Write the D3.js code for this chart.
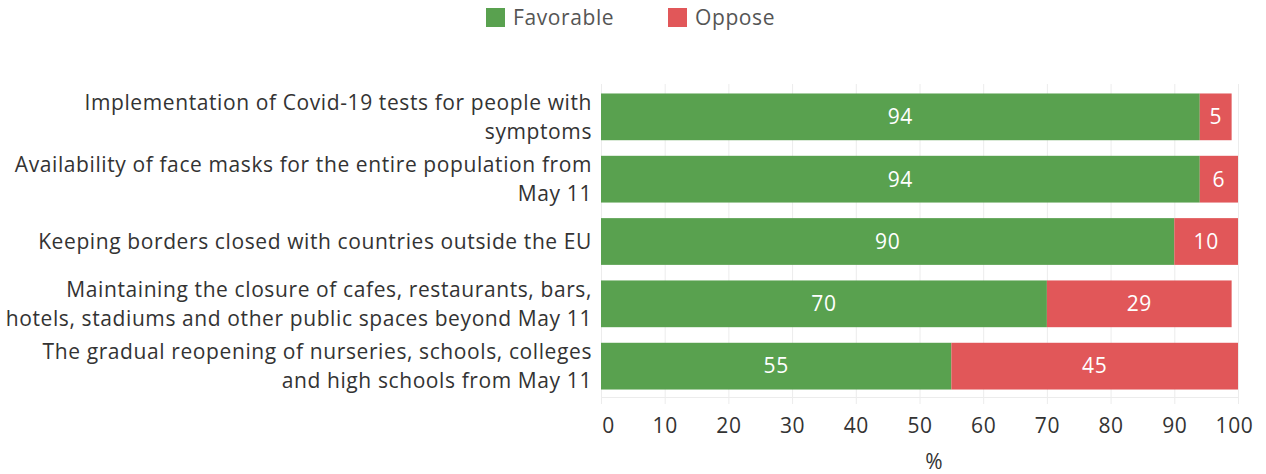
<!DOCTYPE html>
<html><head><meta charset="utf-8">
<script src="https://cdn.jsdelivr.net/npm/d3@7"></script>
<style>body{margin:0;background:#fff;} text{font-family:"Open Sans",sans-serif;}</style>
</head><body><svg id="c" width="1266" height="474"></svg>
<script>
const categories = [
  ["Implementation of Covid-19 tests for people with","symptoms"],
  ["Availability of face masks for the entire population from","May 11"],
  ["Keeping borders closed with countries outside the EU"],
  ["Maintaining the closure of cafes, restaurants, bars,","hotels, stadiums and other public spaces beyond May 11"],
  ["The gradual reopening of nurseries, schools, colleges","and high schools from May 11"]
];
const favorable = [94, 94, 90, 70, 55];
const oppose = [5, 6, 10, 29, 45];
const seriesNames = ["Favorable","Oppose"];
const colors = ["#59a14f","#e15759"];
const xTicks = [0,10,20,30,40,50,60,70,80,90,100];
const xTitle = "%";

const svg = d3.select("#c");
const x = d3.scaleLinear().domain([0,100]).range([601,1238]);
const y = d3.scaleBand().domain(d3.range(categories.length)).range([86,397]).paddingInner(0.25).paddingOuter(0.12);

// gridlines
svg.append("g").selectAll("line").data(xTicks).join("line")
  .attr("x1",d=>x(d)+0.5).attr("x2",d=>x(d)+0.5).attr("y1",84).attr("y2",404)
  .attr("stroke","#ececec").attr("stroke-width",1);
svg.append("line").attr("x1",x(0)).attr("x2",x(100)+1).attr("y1",397.5).attr("y2",397.5).attr("stroke","#ececec");

const rows = categories.map((c,i)=>({i, fav:favorable[i], opp:oppose[i]}));
const g = svg.append("g");
g.selectAll("rect.f").data(rows).join("rect").attr("class","f")
  .attr("x",x(0)).attr("y",d=>y(d.i)).attr("width",d=>x(d.fav)-x(0)).attr("height",y.bandwidth()).attr("fill",colors[0]);
g.selectAll("rect.o").data(rows).join("rect").attr("class","o")
  .attr("x",d=>x(d.fav)).attr("y",d=>y(d.i)).attr("width",d=>x(d.fav+d.opp)-x(d.fav)).attr("height",y.bandwidth()).attr("fill",colors[1]);
g.selectAll("text.fv").data(rows).join("text").attr("class","fv")
  .attr("x",d=>(x(0)+x(d.fav))/2).attr("y",d=>y(d.i)+y.bandwidth()/2).attr("dy","0.35em")
  .attr("text-anchor","middle").attr("fill","#fff").attr("font-size",21).attr("letter-spacing",0.6).text(d=>d.fav);
g.selectAll("text.ov").data(rows).join("text").attr("class","ov")
  .attr("x",d=>(x(d.fav)+x(d.fav+d.opp))/2).attr("y",d=>y(d.i)+y.bandwidth()/2).attr("dy","0.35em")
  .attr("text-anchor","middle").attr("fill","#fff").attr("font-size",21).attr("letter-spacing",0.6).text(d=>d.opp);

// category labels
const lab = svg.append("g");
categories.forEach((lines,i)=>{
  const cy = y(i)+y.bandwidth()/2;
  const lh = 29;
  const t = lab.append("text").attr("text-anchor","end").attr("font-size",21).attr("letter-spacing",0.6).attr("fill","#333");
  lines.forEach((ln,k)=>{
    t.append("tspan").attr("x",592).attr("y",cy+(k-(lines.length-1)/2)*lh).attr("dy","0.35em").text(ln);
  });
});

// x axis
const ax = svg.append("g").attr("transform","translate(0,404)")
  .call(d3.axisBottom(x).tickValues(xTicks).tickSize(0).tickPadding(14));
ax.select(".domain").remove();
ax.selectAll("text").attr("font-size",21).attr("letter-spacing",0.6).attr("fill","#333").attr("font-family","'Open Sans',sans-serif");
ax.selectAll("text").attr("dx",d=>d===0?7:(d===100?-4:0));
svg.append("text").attr("x",934).attr("y",462).attr("dy","0.35em").attr("text-anchor","middle")
  .attr("font-size",21).attr("fill","#333").text(xTitle);

// legend
const leg = svg.append("g");
const lx = [486,668];
seriesNames.forEach((n,i)=>{
  leg.append("rect").attr("x",lx[i]).attr("y",8).attr("width",19).attr("height",19).attr("fill",colors[i]);
  leg.append("text").attr("x",lx[i]+27).attr("y",18).attr("dy","0.35em").attr("font-size",21).attr("letter-spacing",0.6).attr("fill","#555").text(n);
});
</script></body></html>
